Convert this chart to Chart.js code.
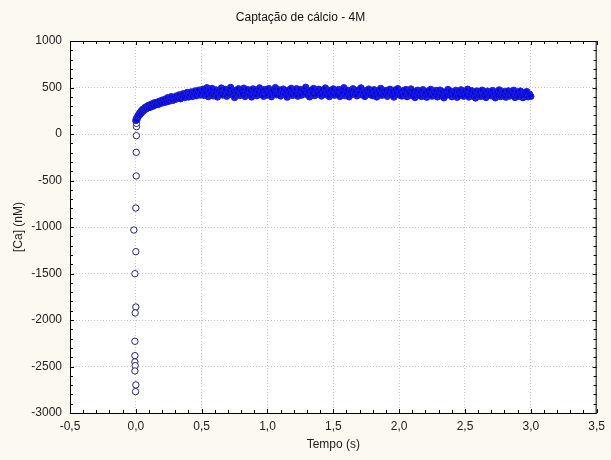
<!DOCTYPE html>
<html>
<head>
<meta charset="utf-8">
<title>Captação de cálcio - 4M</title>
<script src="https://cdn.jsdelivr.net/npm/chart.js@4.4.1/dist/chart.umd.min.js"></script>
<style>
	html, body { margin: 0; padding: 0; background: #fcfaf0; }
	canvas { display: block; }
</style>
</head>
<body>
<canvas id="chart" width="611" height="460"></canvas>
<script>
const chartTitle = "Captação de cálcio - 4M";
const xTitle = "Tempo (s)";
const yTitle = "[Ca] (nM)";

// the early points near t = 0, far below the plateau
const outlierTimes = [0.000, -0.015, 0.000, -0.007, 0.000, -0.005, -0.007, -0.007, -0.007, -0.005, -0.007, 0.000, -0.002, 0.003, 0.003, 0.004, 0.005, 0.005];
const outlierValues = [-796, -1032, -1265, -1502, -1860, -1924, -2229, -2383, -2451, -2491, -2548, -2698, -2770, -451, -197, -18, 79, 115];

// rising part of the curve
const rampTimes = [
	0.000, 0.005, 0.010, 0.015, 0.020, 0.025, 0.030, 0.035, 0.040, 0.045,
	0.050, 0.055, 0.060, 0.065, 0.070, 0.075, 0.080, 0.085, 0.090, 0.095,
	0.10, 0.11, 0.12, 0.13, 0.14, 0.15, 0.16, 0.17, 0.18, 0.19,
	0.20, 0.21, 0.22, 0.23, 0.24, 0.25, 0.26, 0.27, 0.28, 0.29,
	0.30, 0.31, 0.32, 0.33, 0.34, 0.35, 0.36, 0.37, 0.38, 0.39,
	0.40, 0.41, 0.42, 0.43, 0.44, 0.45, 0.46, 0.47, 0.48, 0.49
];
const rampValues = [
	145, 168, 160, 190, 205, 198, 228, 215, 245, 232,
	262, 248, 270, 258, 285, 268, 292, 276, 301, 283,
	310, 288, 322, 299, 335, 312, 341, 318, 352, 330,
	364, 338, 371, 344, 389, 352, 378, 402, 361, 395,
	372, 410, 384, 421, 379, 405, 433, 391, 418, 446,
	398, 427, 452, 404, 438, 463, 411, 445, 472, 419
];

// plateau
const plateauTimes = [
	0.50, 0.51, 0.52, 0.53, 0.54, 0.55, 0.56, 0.57, 0.58, 0.59,
	0.60, 0.61, 0.62, 0.63, 0.64, 0.65, 0.66, 0.67, 0.68, 0.69,
	0.70, 0.71, 0.72, 0.73, 0.74, 0.75, 0.76, 0.77, 0.78, 0.79,
	0.80, 0.81, 0.82, 0.83, 0.84, 0.85, 0.86, 0.87, 0.88, 0.89,
	0.90, 0.91, 0.92, 0.93, 0.94, 0.95, 0.96, 0.97, 0.98, 0.99,
	1.00, 1.01, 1.02, 1.03, 1.04, 1.05, 1.06, 1.07, 1.08, 1.09,
	1.10, 1.11, 1.12, 1.13, 1.14, 1.15, 1.16, 1.17, 1.18, 1.19,
	1.20, 1.21, 1.22, 1.23, 1.24, 1.25, 1.26, 1.27, 1.28, 1.29,
	1.30, 1.31, 1.32, 1.33, 1.34, 1.35, 1.36, 1.37, 1.38, 1.39,
	1.40, 1.41, 1.42, 1.43, 1.44, 1.45, 1.46, 1.47, 1.48, 1.49,
	1.50, 1.51, 1.52, 1.53, 1.54, 1.55, 1.56, 1.57, 1.58, 1.59,
	1.60, 1.61, 1.62, 1.63, 1.64, 1.65, 1.66, 1.67, 1.68, 1.69,
	1.70, 1.71, 1.72, 1.73, 1.74, 1.75, 1.76, 1.77, 1.78, 1.79,
	1.80, 1.81, 1.82, 1.83, 1.84, 1.85, 1.86, 1.87, 1.88, 1.89,
	1.90, 1.91, 1.92, 1.93, 1.94, 1.95, 1.96, 1.97, 1.98, 1.99,
	2.00, 2.01, 2.02, 2.03, 2.04, 2.05, 2.06, 2.07, 2.08, 2.09,
	2.10, 2.11, 2.12, 2.13, 2.14, 2.15, 2.16, 2.17, 2.18, 2.19,
	2.20, 2.21, 2.22, 2.23, 2.24, 2.25, 2.26, 2.27, 2.28, 2.29,
	2.30, 2.31, 2.32, 2.33, 2.34, 2.35, 2.36, 2.37, 2.38, 2.39,
	2.40, 2.41, 2.42, 2.43, 2.44, 2.45, 2.46, 2.47, 2.48, 2.49,
	2.50, 2.51, 2.52, 2.53, 2.54, 2.55, 2.56, 2.57, 2.58, 2.59,
	2.60, 2.61, 2.62, 2.63, 2.64, 2.65, 2.66, 2.67, 2.68, 2.69,
	2.70, 2.71, 2.72, 2.73, 2.74, 2.75, 2.76, 2.77, 2.78, 2.79,
	2.80, 2.81, 2.82, 2.83, 2.84, 2.85, 2.86, 2.87, 2.88, 2.89,
	2.90, 2.91, 2.92, 2.93, 2.94, 2.95, 2.96, 2.97, 2.98, 2.99,
	3.00
];
const plateauValues = [
	451, 482, 415, 438, 497, 402, 466, 428, 489, 410,
	445, 474, 398, 461, 432, 494, 419, 453, 480, 406,
	437, 468, 501, 423, 456, 392, 471, 440, 486, 414,
	459, 429, 492, 403, 448, 477, 420, 463, 398, 485,
	434, 470, 412, 452, 496, 425, 461, 405, 479, 443,
	418, 488, 447, 401, 466, 430, 499, 421, 458, 475,
	409, 442, 483, 426, 462, 396, 473, 437, 491, 415,
	454, 428, 487, 407, 449, 478, 418, 465, 440, 502,
	424, 460, 399, 471, 436, 489, 413, 455, 431, 481,
	446, 408, 475, 433, 494, 420, 457, 402, 468, 439,
	485, 417, 452, 427, 478, 404, 463, 444, 497, 412,
	438, 470, 400, 456, 425, 486, 431, 461, 410, 473,
	445, 496, 419, 450, 404, 467, 435, 483, 422, 458,
	411, 476, 441, 398, 463, 428, 490, 416, 452, 437,
	469, 405, 447, 481, 423, 458, 397, 474, 432, 488,
	419, 453, 408, 466, 436, 478, 401, 446, 425, 484,
	412, 459, 392, 441, 470, 418, 451, 403, 476, 428,
	449, 396, 463, 421, 480, 407, 443, 426, 468, 399,
	437, 472, 410, 455, 389, 446, 417, 478, 428, 460,
	401, 444, 423, 469, 395, 452, 414, 475, 431, 406,
	458, 420, 481, 398, 440, 466, 409, 447, 387, 462,
	425, 453, 404, 471, 418, 439, 392, 461, 427, 448,
	410, 467, 433, 389, 452, 416, 474, 402, 442, 421,
	458, 396, 437, 464, 408, 445, 419, 470, 393, 431,
	451, 405, 462, 424, 391, 447, 413, 456, 400, 428,
	405
];

const fontFamily = "'Liberation Sans', Arial, sans-serif";

function toPoints(times, values) {
	return times.map(function (t, i) {
		return { x: t, y: values[i] };
	});
}

function commaNumber(value) {
	return value.toFixed(1).replace(".", ",");
}

// cream background, white plot area, black frame with inward ticks
const framePlugin = {
	id: "frame",
	beforeDraw: function (chart) {
		const ctx = chart.ctx;
		const area = chart.chartArea;
		ctx.save();
		ctx.fillStyle = "#fcfaf0";
		ctx.fillRect(0, 0, chart.width, chart.height);
		ctx.fillStyle = "#ffffff";
		ctx.fillRect(area.left, area.top, area.right - area.left, area.bottom - area.top);
		ctx.restore();
	},
	afterDraw: function (chart) {
		const ctx = chart.ctx;
		const area = chart.chartArea;
		const xs = chart.scales.x;
		const ys = chart.scales.y;
		ctx.save();
		ctx.strokeStyle = "#000000";
		ctx.lineWidth = 1;
		ctx.strokeRect(area.left + 0.5, area.top + 0.5, area.right - area.left - 1, area.bottom - area.top);
		ctx.beginPath();
		for (let i = 0; i <= 40; i++) {
			const px = Math.round(xs.getPixelForValue(-0.5 + i * 0.1)) + 0.5;
			const len = i % 5 === 0 ? 4 : 3;
			ctx.moveTo(px, area.bottom);
			ctx.lineTo(px, area.bottom - len);
			ctx.moveTo(px, area.top);
			ctx.lineTo(px, area.top + len);
		}
		for (let i = 0; i <= 40; i++) {
			const py = Math.round(ys.getPixelForValue(-3000 + i * 100)) + 0.5;
			const len = i % 5 === 0 ? 4 : 3;
			ctx.moveTo(area.left, py);
			ctx.lineTo(area.left + len, py);
			ctx.moveTo(area.right, py);
			ctx.lineTo(area.right - len, py);
		}
		ctx.stroke();
		ctx.restore();
	},
};

const allPoints = toPoints(outlierTimes, outlierValues)
	.concat(toPoints(rampTimes, rampValues))
	.concat(toPoints(plateauTimes, plateauValues));

function isCurvePoint(c) {
	return c.raw ? c.raw.y > 130 : false;
}

const config = {
	type: "scatter",
	data: {
		datasets: [
			{
				label: "[Ca]",
				data: allPoints,
				pointRadius: 3.2,
				pointBorderWidth: 1,
				pointBorderColor: function (c) {
					return isCurvePoint(c) ? "rgb(35, 35, 185)" : "rgb(40, 40, 130)";
				},
				pointBackgroundColor: function (c) {
					return isCurvePoint(c) ? "rgba(0, 0, 255, 0.9)" : "#ffffff";
				},
				pointHoverRadius: 3.2,
			},
		],
	},
	options: {
		responsive: false,
		animation: false,
		devicePixelRatio: 1,
		layout: {
			padding: { left: 0, right: 10, top: 0, bottom: 0 },
		},
		plugins: {
			legend: { display: false },
			tooltip: { enabled: false },
			title: {
				display: true,
				text: chartTitle,
				color: "#111111",
				font: { family: fontFamily, size: 12, weight: "normal" },
				padding: { top: 10, bottom: 16.6 },
			},
		},
		scales: {
			x: {
				type: "linear",
				position: "bottom",
				min: -0.5,
				max: 3.5,
				afterFit: function (scale) {
					scale.height = 47;
				},
				ticks: {
					stepSize: 0.5,
					color: "#222222",
					padding: 6,
					maxRotation: 0,
					font: { family: fontFamily, size: 12 },
					callback: function (value) {
						return commaNumber(value);
					},
				},
				grid: {
					color: "#c4c4c4",
					drawTicks: false,
				},
				border: { display: false, dash: [1, 2] },
				title: {
					display: true,
					text: xTitle,
					color: "#222222",
					font: { family: fontFamily, size: 12 },
					padding: { top: 0, bottom: 8 },
				},
			},
			y: {
				type: "linear",
				min: -3000,
				max: 1000,
				afterFit: function (scale) {
					scale.width = 70;
				},
				ticks: {
					stepSize: 500,
					color: "#222222",
					padding: 8,
					font: { family: fontFamily, size: 12 },
					callback: function (value) {
						return String(value);
					},
				},
				grid: {
					color: "#c4c4c4",
					drawTicks: false,
				},
				border: { display: false, dash: [1, 2] },
				title: {
					display: true,
					text: yTitle,
					color: "#222222",
					font: { family: fontFamily, size: 12 },
					padding: { top: 11, bottom: 0 },
				},
			},
		},
	},
	plugins: [framePlugin],
};

const ctx = document.getElementById("chart").getContext("2d");
new Chart(ctx, config);
</script>
</body>
</html>
